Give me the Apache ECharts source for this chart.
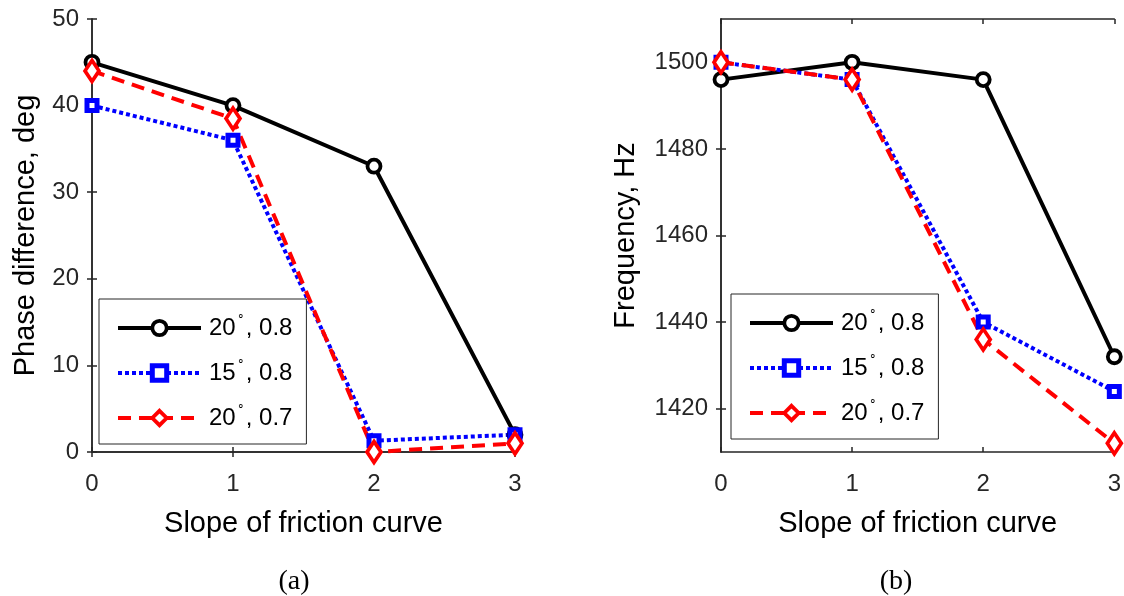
<!DOCTYPE html>
<html>
<head>
<meta charset="utf-8">
<script src="https://cdn.jsdelivr.net/npm/echarts@6/dist/echarts.min.js"></script>
<style>
  html, body { margin: 0; padding: 0; background: #fff; }
  #chart { width: 1124px; height: 596px; }
</style>
</head>
<body>
<div id="chart"></div>
<script>
// Slope of the friction curve (x axis of both panels)
const slopes = [0, 1, 2, 3];

// Legend names: angle, coefficient
const seriesNames = ['20°, 0.8', '15°, 0.8', '20°, 0.7'];

// (a) phase difference, deg
const phase_20_08 = [45, 40, 33, 2];
const phase_15_08 = [40, 36, 1.3, 2];
const phase_20_07 = [44, 38.5, 0, 1];

// (b) frequency, Hz
const freq_20_08 = [1496, 1500, 1496, 1432];
const freq_15_08 = [1500, 1496, 1440, 1424];
const freq_20_07 = [1500, 1496, 1436, 1412];

// Tick labels
const xTicks = [0, 1, 2, 3];
const phaseTicks = [0, 10, 20, 30, 40, 50];
const freqTicks = [1420, 1440, 1460, 1480, 1500];

const axisColor = '#262626';
const sans = 'Liberation Sans, Arial, sans-serif';
const serif = 'Liberation Serif, Times New Roman, serif';
const lineWidth = 4;

// Marker and line look of the three cases
const styles = [
  { color: '#000000', symbol: 'circle', symbolSize: 13, borderWidth: 3.8, lineType: 'solid' },
  { color: '#0000ff', symbol: 'rect', symbolSize: 10, borderWidth: 5, lineType: [4, 3] },
  { color: '#ff0000', symbol: 'diamond', symbolSize: [14, 21], borderWidth: 3.8, lineType: [13, 8] }
];

function pairs(values) {
  return slopes.map((s, i) => [s, values[i]]);
}

function makeSeries(name, values, st, xi, yi) {
  return {
    type: 'line',
    name: name,
    xAxisIndex: xi,
    yAxisIndex: yi,
    data: pairs(values),
    symbol: st.symbol,
    symbolSize: st.symbolSize,
    showAllSymbol: true,
    animation: false,
    lineStyle: { color: st.color, width: lineWidth, type: st.lineType, cap: 'butt' },
    itemStyle: { color: '#ffffff', borderColor: st.color, borderWidth: st.borderWidth },
    emphasis: { disabled: true }
  };
}

// "20°, 0.8" -> digits with a small raised ring for the degree sign
function legendLabel(name) {
  const parts = name.split('°');
  return '{n|' + parts[0] + '}{d|∘}{n|' + parts[1] + '}';
}

function legendItems() {
  return seriesNames.map((name, i) => ({
    name: name,
    itemStyle: { color: '#ffffff', borderColor: styles[i].color, borderWidth: styles[i].borderWidth },
    lineStyle: { color: styles[i].color, width: lineWidth, type: styles[i].lineType, cap: 'butt' }
  }));
}

function legend(left, top) {
  return {
    data: legendItems(),
    orient: 'vertical',
    left: left,
    top: top,
    padding: [12, 14, 14, 17],
    itemGap: 16,
    itemWidth: 83,
    itemHeight: 18,
    backgroundColor: '#ffffff',
    borderColor: '#262626',
    borderWidth: 1,
    borderRadius: 0,
    selectedMode: false,
    formatter: legendLabel,
    textStyle: {
      padding: [0, 0, 0, 3],
      rich: {
        n: { fontFamily: sans, fontSize: 24, color: '#000', verticalAlign: 'middle', lineHeight: 34 },
        d: { fontFamily: sans, fontSize: 12, color: '#000', verticalAlign: 'top', lineHeight: 10, padding: [0, 1, 0, 1] }
      }
    }
  };
}

function xAxisPair(gridIndex) {
  return [
    {
      type: 'value', gridIndex: gridIndex, min: 0, max: 3, interval: 1,
      name: 'Slope of friction curve', nameLocation: 'middle', nameGap: 57,
      nameTextStyle: { fontFamily: sans, fontSize: 29, color: '#000' },
      axisLine: { show: true, lineStyle: { color: axisColor, width: 1.5 } },
      axisTick: { show: true, inside: true, length: 5, lineStyle: { color: axisColor, width: 1.5 } },
      axisLabel: { fontFamily: sans, fontSize: 24, color: axisColor, margin: 20,
                   customValues: xTicks, formatter: v => String(v) },
      splitLine: { show: false }
    },
    {
      type: 'value', gridIndex: gridIndex, position: 'top', min: 0, max: 3, interval: 1,
      axisLine: { show: true, lineStyle: { color: axisColor, width: 1.5 } },
      axisTick: { show: true, inside: true, length: 5, lineStyle: { color: axisColor, width: 1.5 } },
      axisLabel: { show: false },
      splitLine: { show: false }
    }
  ];
}

function yAxisPair(gridIndex, min, max, ticks, name, gap) {
  return [
    {
      type: 'value', gridIndex: gridIndex, min: min, max: max,
      name: name, nameLocation: 'middle', nameGap: gap,
      nameTextStyle: { fontFamily: sans, fontSize: 29, color: '#000' },
      axisLine: { show: true, lineStyle: { color: axisColor, width: 1.5 } },
      axisTick: { show: true, inside: true, length: 5, lineStyle: { color: axisColor, width: 1.5 },
                  customValues: ticks },
      axisLabel: { fontFamily: sans, fontSize: 24, color: axisColor, margin: 13,
                   customValues: ticks, formatter: v => String(v) },
      splitLine: { show: false }
    },
    {
      type: 'value', gridIndex: gridIndex, position: 'right', min: min, max: max,
      axisLine: { show: true, lineStyle: { color: axisColor, width: 1.5 } },
      axisTick: { show: true, inside: true, length: 5, lineStyle: { color: axisColor, width: 1.5 },
                  customValues: ticks },
      axisLabel: { show: false },
      splitLine: { show: false }
    }
  ];
}

const chart = echarts.init(document.getElementById('chart'), null, { renderer: 'canvas' });

chart.setOption({
  backgroundColor: '#ffffff',
  animation: false,
  grid: [
    { left: 92, top: 19, width: 423, height: 433 },
    { left: 721, top: 19, width: 395, height: 433 }
  ],
  xAxis: [...xAxisPair(0), ...xAxisPair(1)],
  yAxis: [
    ...yAxisPair(0, 0, 50, phaseTicks, 'Phase difference, deg', 52),
    ...yAxisPair(1, 1410, 1510, freqTicks, 'Frequency, Hz', 81)
  ],
  legend: [legend(99, 299), legend(731, 294)],
  title: [
    { text: '(a)', left: 289, top: 563, textAlign: 'center',
      textStyle: { fontFamily: serif, fontSize: 28, fontWeight: 'normal', color: '#000' } },
    { text: '(b)', left: 891, top: 563, textAlign: 'center',
      textStyle: { fontFamily: serif, fontSize: 28, fontWeight: 'normal', color: '#000' } }
  ],
  series: [
    makeSeries(seriesNames[0], phase_20_08, styles[0], 0, 0),
    makeSeries(seriesNames[1], phase_15_08, styles[1], 0, 0),
    makeSeries(seriesNames[2], phase_20_07, styles[2], 0, 0),
    makeSeries(seriesNames[0], freq_20_08, styles[0], 2, 2),
    makeSeries(seriesNames[1], freq_15_08, styles[1], 2, 2),
    makeSeries(seriesNames[2], freq_20_07, styles[2], 2, 2)
  ]
});
</script>
</body>
</html>
